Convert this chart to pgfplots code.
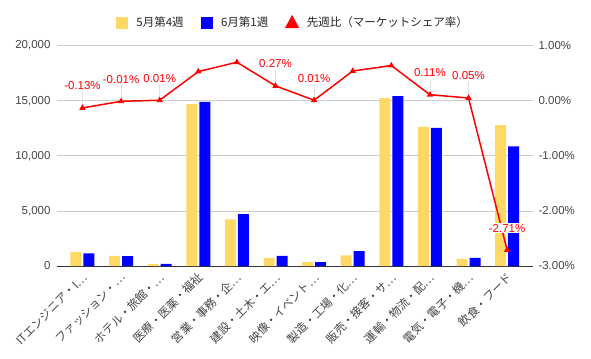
\documentclass[border=0pt]{standalone}
\usepackage{pgfplots}
\pgfplotsset{compat=1.18}
\usepackage{fontspec}
\setmainfont{Liberation Sans}
\newfontfamily\jp{Noto Sans CJK JP}
\definecolor{barY}{HTML}{FFD966}
\definecolor{barB}{HTML}{0000FF}
\definecolor{gridc}{HTML}{CCCCCC}
\definecolor{txt}{HTML}{444444}
\begin{document}
\begin{tikzpicture}
\useasboundingbox (-57bp,-93bp) rectangle (534bp,266bp);
\begin{axis}[
  at={(0,0)}, anchor=south west,
  scale only axis, width=476bp, height=220.3bp,
  xmin=-0.66, xmax=11.67, ymin=0, ymax=20000,
  ybar=2bp, bar width=11bp,
  axis x line*=bottom, axis y line*=left,
  x axis line style={draw=black!80, line width=0.8bp, -},
  y axis line style={draw=none},
  major tick length=0,
  xtick={0,1,2,3,4,5,6,7,8,9,10,11},
  xticklabels={ITエンジニア・I…,ファッション・…,ホテル・旅館・…,医療・医薬・福祉,営業・事務・企…,建設・土木・エ…,映像・イベント…,製造・工場・化…,販売・接客・サ…,運輸・物流・配…,電気・電子・機…,飲食・フード},
  xticklabel style={xshift=5bp, yshift=-7bp, rotate=45, anchor=east, font=\jp\fontsize{11.5bp}{13bp}\selectfont, text=txt},
  ytick={0,5000,10000,15000,20000},
  ymajorgrids, grid style={gridc, line width=0.8bp},
  scaled y ticks=false,
  yticklabel style={font=\fontsize{11.5bp}{13bp}\selectfont, text=txt},
  yticklabel shift=3bp,
  /pgf/number format/fixed,
  /pgf/number format/1000 sep={,},
  /pgf/number format/assume math mode=true,
]
\addplot[fill=barY, draw=none] coordinates {
 (0,1270) (1,910) (2,200) (3,14700) (4,4240) (5,730) (6,360) (7,970) (8,15250) (9,12620) (10,640) (11,12780)};
\addplot[fill=barB, draw=none] coordinates {
 (0,1150) (1,900) (2,200) (3,14890) (4,4720) (5,910) (6,360) (7,1360) (8,15430) (9,12530) (10,730) (11,10860)};
\end{axis}
\begin{axis}[
  at={(0,0)}, anchor=south west,
  scale only axis, width=476bp, height=220.3bp,
  xmin=-0.66, xmax=11.67, ymin=-3, ymax=1,
  axis y line*=right, axis x line=none,
  y axis line style={draw=none},
  major tick length=0,
  ytick={-3,-2,-1,0,1},
  yticklabel={\pgfmathprintnumber[fixed,fixed zerofill,precision=2,assume math mode=true]{\tick}\%},
  yticklabel style={font=\fontsize{11.5bp}{13bp}\selectfont, text=txt},
  yticklabel shift=2bp,
  legend columns=3,
  legend style={at={(0.124,1.1076)}, anchor=west, draw=none, fill=none, inner sep=0pt, outer sep=0pt,
    column sep=0bp, /tikz/every even column/.append style={column sep=17bp},
    nodes={inner sep=0bp, font=\jp\fontsize{11.5bp}{13bp}\selectfont, text=black!85}},
]
\addlegendimage{legend image code/.code={\fill[barY] (0bp,-5.5bp) rectangle (11bp,5.5bp); \path (20bp,0bp);}}
\addlegendentry{5月第4週}
\addlegendimage{legend image code/.code={\fill[barB] (0bp,-5.5bp) rectangle (11bp,5.5bp); \path (20bp,0bp);}}
\addlegendentry{6月第1週}
\addplot[forget plot, draw=none, mark=none,
  error bars/.cd, y dir=plus, y fixed=0.29, error mark=none,
  error bar style={draw=black!12, line width=0.7bp, solid}]
  coordinates {(0,-0.13) (1,-0.01) (2,0.01) (5,0.27) (6,0.01) (9,0.11) (10,0.05) (11,-2.71)};
\addplot[red, line width=1.5bp, mark=triangle*, mark size=2.2bp, mark options={solid},
  legend image code/.code={\fill[red] (0bp,-5bp) -- (12bp,-5bp) -- (6bp,6bp) -- cycle; \path (20bp,0bp);}]
  coordinates {(0,-0.13) (1,-0.01) (2,0.01) (3,0.53) (4,0.70) (5,0.27) (6,0.01) (7,0.54) (8,0.64) (9,0.11) (10,0.05) (11,-2.71)};
\addlegendentry{先週比（マーケットシェア率）}
\addplot[forget plot, draw=none, mark=none, point meta=explicit symbolic, nodes near coords,
  every node near coord/.append style={anchor=center, yshift=22bp, text=red, fill=white, inner sep=0.8bp,
    font=\fontsize{11.5bp}{13bp}\selectfont}]
  coordinates {(0,-0.13) [-0.13\%] (1,-0.01) [-0.01\%] (2,0.01) [0.01\%] (5,0.27) [0.27\%] (6,0.01) [0.01\%] (9,0.11) [0.11\%] (10,0.05) [0.05\%] (11,-2.71) [-2.71\%]};
\end{axis}
\end{tikzpicture}
\end{document}
